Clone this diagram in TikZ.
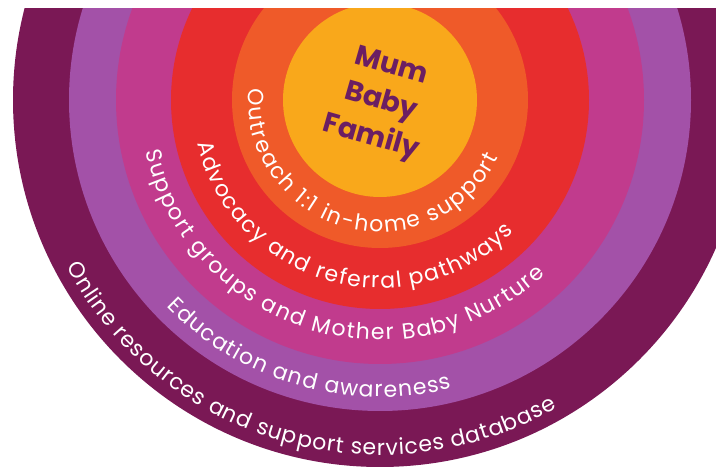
\documentclass[tikz,border=0pt]{standalone}
\usepackage{fontspec}
\setmainfont{Poppins}
\usetikzlibrary{decorations.text,calc}
\definecolor{ringA}{HTML}{7A1855}
\definecolor{ringB}{HTML}{A351A8}
\definecolor{ringC}{HTML}{C13B8D}
\definecolor{ringD}{HTML}{E72D2E}
\definecolor{ringE}{HTML}{EF5A29}
\definecolor{ringF}{HTML}{F9A81B}
\definecolor{coretext}{HTML}{6B1E63}
\tikzset{
  ringlabel/.style={decorate, decoration={text along path, text align={fit to path},
      text={|\fontsize{22}{22}\selectfont\color{white}|#1}}},
}
% label along an arc: baseline radius #1, from angle #2 to angle #3
\newcommand{\ringtext}[4]{%
  \path[ringlabel={#4}] ($(c)+(#2:#1)$) arc[start angle=#2, end angle=#3, radius=#1];}
\begin{document}
\begin{tikzpicture}[x=1pt,y=1pt]
\useasboundingbox (0,0) rectangle (716,474);
\coordinate (c) at (380,374);
\begin{scope}
  \clip (0,0) rectangle (716,465);
  \fill[ringA] (c) circle[radius=367];
  \fill[ringB] (c) circle[radius=311];
  \fill[ringC] (c) circle[radius=264];
  \fill[ringD] (c) circle[radius=209];
  \fill[ringE] (c) circle[radius=148];
  \fill[ringF] (c) circle[radius=97];
\end{scope}
\ringtext{132}{175}{334}{Outreach 1:1 in-home support}
\ringtext{188}{193.5}{315.5}{Advocacy and referral pathways}
\ringtext{240}{192.5}{313.5}{Support groups and Mother Baby Nurture}
\ringtext{297}{224}{284}{Education and awareness}
\ringtext{355}{208}{300}{Online resources and support services database}
\node[rotate=-16, align=center, text=coretext,
      font=\bfseries\fontsize{28}{37}\selectfont] (core) at (381,371) {Mum\\Baby\\Family};
\end{tikzpicture}
\end{document}
